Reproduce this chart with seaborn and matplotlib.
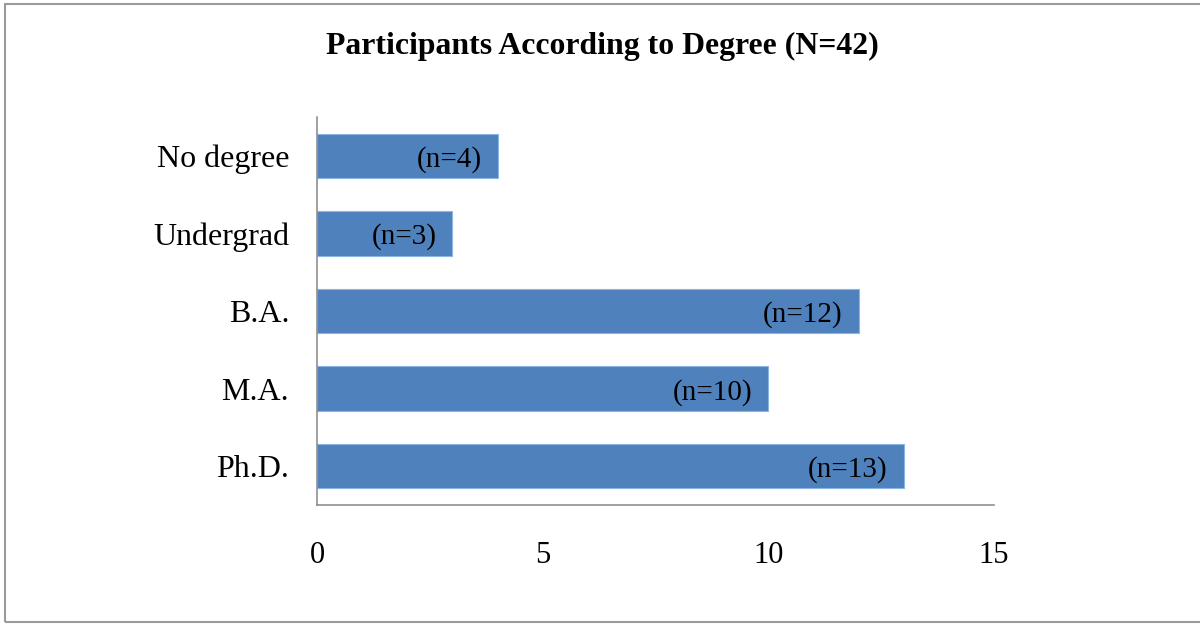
import matplotlib
matplotlib.use("Agg")
import matplotlib.pyplot as plt
import seaborn as sns
import pandas as pd
from matplotlib.patches import Rectangle

degrees = ["No degree", "Undergrad", "B.A.", "M.A.", "Ph.D."]
counts = [4, 3, 12, 10, 13]
bar_labels = ["(n=4)", "(n=3)", "(n=12)", "(n=10)", "(n=13)"]
x_ticks = [0, 5, 10, 15]
title = "Participants According to Degree (N=42)"

sns.set_theme(style="white")
plt.rcParams['font.family'] = ['Liberation Serif', 'DejaVu Serif']

df = pd.DataFrame({"degree": degrees, "count": counts})

fig = plt.figure(figsize=(12, 6.24), dpi=100)
ax = fig.add_axes([317/1200, 1 - 505/624, (994-317)/1200, (505-117)/624])

sns.barplot(data=df, x="count", y="degree", orient="h", color="#4F81BD",
            saturation=1, width=0.57, edgecolor="#8EB4E3", linewidth=0.8, ax=ax)

for i, (v, lab) in enumerate(zip(counts, bar_labels)):
    ax.annotate(lab, xy=(v, i), xytext=(-11.5, -2.5), textcoords="offset points",
                ha="right", va="center", fontsize=21, color="black")

ax.set_xlim(0, 15)
ax.set_xticks(x_ticks)
ax.set_xticklabels([str(t) for t in x_ticks])
ax.set_xlabel("")
ax.set_ylabel("")
ax.tick_params(axis="x", length=0, pad=26, labelsize=22, colors="black")
ax.tick_params(axis="y", length=0, pad=20, labelsize=23, colors="black")

for s in ["top", "right"]:
    ax.spines[s].set_visible(False)
for s in ["left", "bottom"]:
    ax.spines[s].set_color("#868686")
    ax.spines[s].set_linewidth(1.1)

fig.text(602/1200, 1 - 46/624, title, ha="center", va="center",
         fontsize=22.9, fontweight="bold", color="black")

fig.patches.append(Rectangle((5/1200, 2/624), 1.2, (624-6)/624,
                             transform=fig.transFigure, fill=False,
                             edgecolor="#9a9a9a", linewidth=1.5))

fig.savefig("out.png", dpi=100)
